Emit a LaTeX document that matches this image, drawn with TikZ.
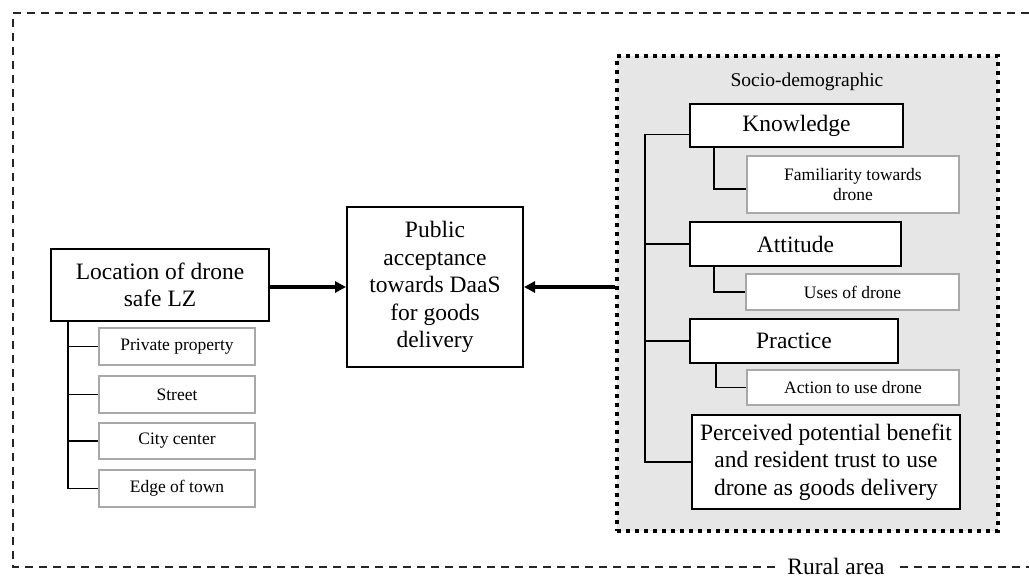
\documentclass[tikz,border=0pt]{standalone}
\usepackage{fontspec}
\setmainfont{Liberation Serif}
\usetikzlibrary{arrows.meta}
\definecolor{subgray}{HTML}{A8A8A8}
\definecolor{panel}{HTML}{E6E6E6}
\tikzset{
  big/.style={font=\fontsize{23.5}{27.5}\selectfont},
  small/.style={font=\fontsize{17.5}{20}\selectfont},
  mainbox/.style={draw=black, line width=2pt, fill=white, inner sep=0pt, align=center, big},
  subbox/.style={draw=subgray, line width=1.8pt, fill=white, inner sep=0pt, align=center, small},
  conn/.style={draw=black, line width=1.9pt},
  arr/.style={draw=black, line width=3.4pt, -{Triangle[length=11pt,width=11pt]}},
  frame/.style={draw=black!85, line width=2pt, dash pattern=on 8pt off 6pt},
  dotbox/.style={draw=black, line width=3.8pt, dash pattern=on 3.8pt off 5.2pt, fill=panel}
}
\begin{document}
\begin{tikzpicture}[x=1pt,y=-1pt]
\useasboundingbox (0,0) rectangle (1029,579);
% outer dashed frame
\draw[frame] (1029,13) -- (13,13) -- (13,567) -- (775,567);
\draw[frame] (900,567) -- (1029,567);
\node[big, inner sep=0pt] (rural) at (836,566.5) {Rural area};
% socio-demographic panel
\node[dotbox, minimum width=381pt, minimum height=475pt, inner sep=0pt] (socio) at (807.5,293.5) {};
\node[font=\fontsize{19.5}{23}\selectfont, inner sep=0pt] (soclab) at (807,82) {Socio-demographic};
% left group
\node[mainbox, minimum width=218pt, minimum height=72pt] (loc) at (160,285) {Location of drone\\safe LZ};
\node[subbox, minimum width=156pt, minimum height=37pt] (pp) at (177,346.5) {Private property};
\node[subbox, minimum width=156pt, minimum height=37pt] (st) at (177,394.5) {Street};
\node[subbox, minimum width=156pt, minimum height=36pt] (cc) at (177,441) {City center};
\node[subbox, minimum width=156pt, minimum height=37pt] (et) at (177,488.5) {Edge of town};
% middle
\node[mainbox, minimum width=176pt, minimum height=160pt] (mid) at (435,287) {Public\\acceptance\\towards DaaS\\for goods\\delivery};
% right group
\node[mainbox, minimum width=213pt, minimum height=43pt] (kn) at (796.5,125.5) {Knowledge};
\node[subbox, minimum width=212pt, minimum height=57pt] (fa) at (853,184.5) {Familiarity towards\\drone};
\node[mainbox, minimum width=211pt, minimum height=44pt] (at) at (795.5,244) {Attitude};
\node[subbox, minimum width=213pt, minimum height=36pt] (us) at (852.5,292) {Uses of drone};
\node[mainbox, minimum width=208pt, minimum height=44pt] (pr) at (794,341) {Practice};
\node[subbox, minimum width=212pt, minimum height=35pt] (ac) at (853,387.5) {Action to use drone};
\node[mainbox, minimum width=268pt, minimum height=94pt] (pc) at (826,462) {Perceived potential benefit\\and resident trust to use\\drone as goods delivery};
% left connectors
\coordinate (lt) at (68,321);
\draw[conn] (lt) |- (pp.west);
\draw[conn] (lt) |- (st.west);
\draw[conn] (lt) |- (cc.west);
\draw[conn] (lt) |- (et.west);
% right connectors
\coordinate (rb) at (645,462);
\draw[conn] ([yshift=-9pt]kn.west) -| (rb) -- (pc.west);
\draw[conn] (rb |- at.west) -- (at.west);
\draw[conn] (rb |- pr.west) -- (pr.west);
\draw[conn] ([xshift=25pt]kn.south west) |- ([yshift=-4.5pt]fa.west);
\draw[conn] ([xshift=25pt]at.south west) |- (us.west);
\draw[conn] ([xshift=27pt]pr.south west) |- (ac.west);
% arrows
\draw[arr] (loc.east |- mid.west) -- (mid.west);
\draw[arr] (socio.west |- mid.east) -- (mid.east);
\end{tikzpicture}
\end{document}
